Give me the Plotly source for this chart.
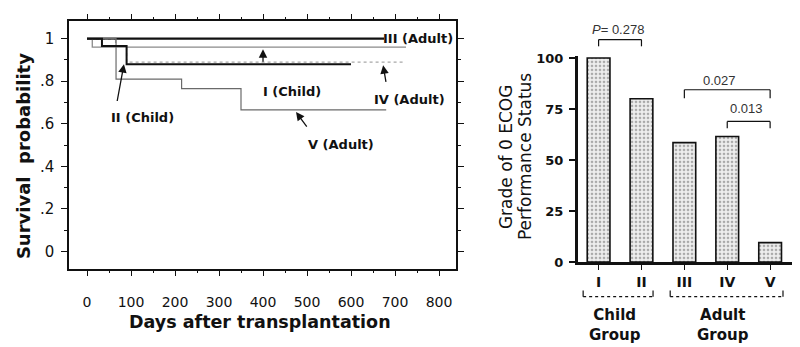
import plotly.graph_objects as go

W, H = 800, 347

# ---------------- data ----------------
# Kaplan-Meier style step curves (days, survival probability)
days_I = [0, 12, 725]
surv_I = [1.0, 0.96, 0.96]
days_II = [0, 34, 90, 600]
surv_II = [1.0, 0.965, 0.88, 0.88]
days_III = [0, 675]
surv_III = [1.0, 1.0]
days_IV = [0, 65, 90, 720]
surv_IV = [1.0, 0.96, 0.89, 0.89]
days_V = [0, 66, 215, 350, 680]
surv_V = [1.0, 0.81, 0.765, 0.665, 0.665]

km_xticks = [0, 100, 200, 300, 400, 500, 600, 700, 800]
km_yticks = [0, 0.2, 0.4, 0.6, 0.8, 1.0]
km_yticktext = ["0", ".2", ".4", ".6", ".8", "1"]

bar_cats = ["I", "II", "III", "IV", "V"]
bar_vals = [100, 80, 58.5, 61.5, 9.5]
bar_yticks = [0, 25, 50, 75, 100]

# ---------------- helpers ----------------
def px(x):
    return x / W

def py(y):
    return 1 - y / H

KX0, KX1 = -40.9, 838.6      # left chart x range
KY0, KY1 = -0.0814, 1.0814   # left chart y range
BY1 = 101.0                  # right chart y range top

fig = go.Figure()

BLK = "#111111"
line_styles = {
    "I": dict(color="#8a8a8a", width=1.3),
    "II": dict(color=BLK, width=2.0),
    "III": dict(color=BLK, width=2.2),
    "IV": dict(color="#a8a8a8", width=1.3, dash="dot"),
    "V": dict(color="#6a6a6a", width=1.2),
}
for name, xs, ys in [("III", days_III, surv_III), ("I", days_I, surv_I),
                     ("IV", days_IV, surv_IV), ("V", days_V, surv_V),
                     ("II", days_II, surv_II)]:
    fig.add_trace(go.Scatter(x=xs, y=ys, mode="lines", line_shape="hv",
                             line=line_styles[name], xaxis="x", yaxis="y",
                             showlegend=False, hoverinfo="skip"))

fig.add_trace(go.Bar(
    x=list(range(len(bar_cats))), y=bar_vals, width=0.53,
    marker=dict(color="#efefef",
                line=dict(color=BLK, width=1.6),
                pattern=dict(shape=".", fgcolor="#666666", bgcolor="#eeeeee",
                             size=4, solidity=0.35)),
    xaxis="x2", yaxis="y2", showlegend=False, hoverinfo="skip"))

lab_font = dict(family="DejaVu Sans", size=13, color=BLK, weight="bold")
annotations = []
# curve labels (data coords)
for txt, x, y in [("III (Adult)", 752, 1.0), ("I (Child)", 466, 0.751),
                  ("IV (Adult)", 734, 0.715), ("II (Child)", 125, 0.629),
                  ("V (Adult)", 577, 0.502)]:
    annotations.append(dict(text=txt, x=x, y=y, xref="x", yref="y",
                            xanchor="center", yanchor="middle",
                            showarrow=False, font=lab_font))
# arrows
for (tx, ty, ax, ay) in [(400, 0.95, 400, 0.885), (84, 0.88, 68, 0.70),
                         (673, 0.875, 680, 0.79), (475, 0.655, 502, 0.58)]:
    annotations.append(dict(text="", x=tx, y=ty, ax=ax, ay=ay, xref="x", yref="y",
                            axref="x", ayref="y", showarrow=True, arrowhead=2,
                            arrowsize=1.3, arrowwidth=1.3, arrowcolor=BLK))
# axis titles left
annotations.append(dict(text="Survival  probability", x=px(23), y=py(157),
                        xref="paper", yref="paper", showarrow=False, textangle=-90,
                        xanchor="center", yanchor="middle",
                        font=dict(family="DejaVu Sans", size=18, color=BLK, weight="bold")))
annotations.append(dict(text="Days after transplantation", x=px(260), y=py(329),
                        xref="paper", yref="paper", showarrow=False,
                        xanchor="center", yanchor="middle",
                        font=dict(family="DejaVu Sans", size=17.5, color=BLK, weight="bold")))
# right y title (two lines)
for txt, xc in [("Grade of 0 ECOG", 506), ("Performance Status", 525)]:
    annotations.append(dict(text=txt, x=px(xc), y=py(158), xref="paper", yref="paper",
                            showarrow=False, textangle=-90,
                            xanchor="center", yanchor="middle",
                            font=dict(family="DejaVu Sans", size=17, color=BLK)))
# p-values
pfont = dict(family="Liberation Sans", size=13, color="#333333")
for txt, x, y in [("<i>P</i>= 0.278", 0.45, 114), ("0.027", 2.81, 88.7), ("0.013", 3.44, 75)]:
    annotations.append(dict(text=txt, x=x, y=y / BY1, xref="x2", yref="y2 domain",
                            xanchor="center", yanchor="middle",
                            showarrow=False, font=pfont))
# group labels
gfont = dict(family="DejaVu Sans", size=15, color=BLK, weight="bold")
for txt, x in [("Child<br>Group", 0.38), ("Adult<br>Group", 2.9)]:
    annotations.append(dict(text=txt, x=x, y=-30.8 / BY1, xref="x2", yref="y2 domain",
                            xanchor="center", yanchor="middle",
                            showarrow=False, font=gfont))

shapes = []
def bracket(x0, x1, ybar, yleg, dot=False):
    d = dict(type="line", xref="x2", yref="y2 domain", line=dict(color=BLK, width=1.2))
    shapes.append({**d, "x0": x0, "x1": x0, "y0": ybar / BY1, "y1": yleg / BY1})
    shapes.append({**d, "x0": x1, "x1": x1, "y0": ybar / BY1, "y1": yleg / BY1})
    hl = {**d, "x0": x0, "x1": x1, "y0": ybar / BY1, "y1": ybar / BY1}
    if dot:
        hl["line"] = dict(color=BLK, width=1.2, dash="dot")
    shapes.append(hl)

bracket(0, 1, 109, 105.7)
bracket(2, 4, 84.4, 80.2)
bracket(3, 4, 68.9, 65.6)
bracket(-0.36, 1.27, -17.0, -14.0, dot=True)
bracket(1.67, 4.3, -17.0, -14.0, dot=True)

fig.update_layout(
    width=W, height=H, margin=dict(l=0, r=0, t=0, b=0),
    paper_bgcolor="white", plot_bgcolor="white",
    showlegend=False,
    xaxis=dict(domain=[px(69), px(456)], range=[KX0, KX1], tickvals=km_xticks,
               showline=True, linecolor=BLK, linewidth=1.5, mirror="allticks",
               ticks="outside", ticklen=6, tickwidth=1.3, tickcolor=BLK,
               minor=dict(dtick=50, ticks="outside", ticklen=3, tickcolor=BLK),
               showgrid=False, zeroline=False, ticklabelstandoff=14,
               tickfont=dict(family="DejaVu Sans", size=14, color=BLK)),
    yaxis=dict(domain=[py(274), py(17)], range=[KY0, KY1], tickvals=km_yticks,
               ticktext=km_yticktext,
               showline=True, linecolor=BLK, linewidth=1.5, mirror="allticks",
               ticks="outside", ticklen=6, tickwidth=1.3, tickcolor=BLK,
               minor=dict(dtick=0.1, ticks="outside", ticklen=3, tickcolor=BLK),
               showgrid=False, zeroline=False, ticklabelstandoff=4,
               tickfont=dict(family="DejaVu Sans", size=15, color=BLK)),
    xaxis2=dict(domain=[px(578), px(792)], range=[-0.48, 4.51], anchor="y2",
                tickvals=list(range(len(bar_cats))), ticktext=bar_cats,
                showline=True, linecolor=BLK, linewidth=3,
                ticks="outside", ticklen=5, tickwidth=1, tickcolor=BLK,
                showgrid=False, zeroline=False,
                tickfont=dict(family="DejaVu Sans", size=14, color=BLK, weight="bold")),
    yaxis2=dict(domain=[py(267), py(267 - BY1 * 2.12)], range=[0, BY1], anchor="x2",
                tickvals=bar_yticks,
                showline=True, linecolor=BLK, linewidth=3,
                ticks="outside", ticklen=6, tickwidth=2, tickcolor=BLK,
                showgrid=False, zeroline=False, ticklabelstandoff=3,
                tickfont=dict(family="DejaVu Sans", size=13, color=BLK, weight="bold")),
    annotations=annotations, shapes=shapes,
)

fig.write_html("out.html")
